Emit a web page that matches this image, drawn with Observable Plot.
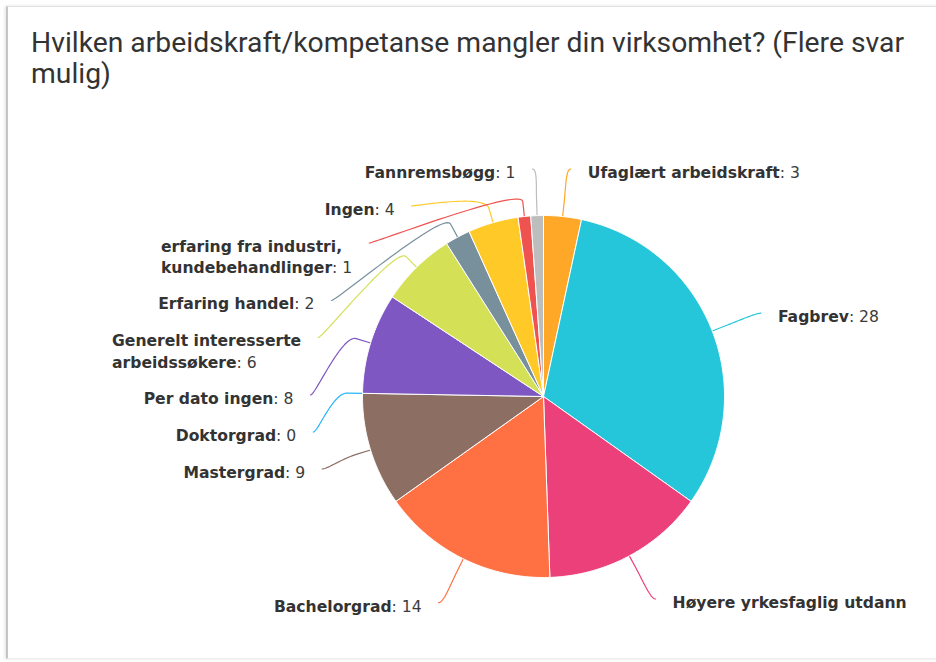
<!DOCTYPE html>
<html><head><meta charset="utf-8">
<script src="https://cdn.jsdelivr.net/npm/d3@7"></script>
<script src="https://cdn.jsdelivr.net/npm/@observablehq/plot@0.6"></script>
<style>
html,body{margin:0;padding:0;background:#fff;}
#page{position:relative;width:936px;height:662px;overflow:hidden;background:#fff;}
#card{position:absolute;left:6px;top:6px;width:960px;height:651px;border-top:1px solid #e2e2e2;border-left:2px solid #c6c6c6;border-bottom:1px solid #ededed;box-shadow:-1px 0 3px rgba(0,0,0,0.12);}
#title{position:absolute;left:31px;top:27px;width:900px;font-family:Roboto,sans-serif;font-size:28.3px;line-height:31px;color:#333;white-space:nowrap;}
#chart{position:absolute;left:0;top:110px;}
</style></head><body>
<div id="page"><div id="card"></div>
<div id="title">Hvilken arbeidskraft/kompetanse mangler din virksomhet? (Flere svar<br>mulig)</div>
<div id="chart"></div></div>
<script>
// ---- data ----
const categories = ["Ufaglært arbeidskraft","Fagbrev","Høyere yrkesfaglig utdanning","Bachelorgrad","Mastergrad","Doktorgrad","Per dato ingen","Generelt interesserte arbeidssøkere","Erfaring handel","Ingen","erfaring fra industri, kundebehandlinger","Fannremsbøgg"];
const values = [3, 28, 13, 14, 9, 0, 8, 6, 2, 4, 1, 1];
const colors = ["#FFA726","#26C6DA","#EC407A","#FF7043","#8D6E63","#29B6F6","#7E57C2","#D4E157","#78909C","#FFCA28","#EF5350","#BDBDBD"];
const labelLines = [["Ufaglært arbeidskraft"],["Fagbrev"],["Høyere yrkesfaglig utdann"],["Bachelorgrad"],["Mastergrad"],["Doktorgrad"],["Per dato ingen"],["Generelt interesserte","arbeidssøkere"],["Erfaring handel"],["Ingen"],["erfaring fra industri,","kundebehandlinger"],["Fannremsbøgg"]];
const valueShown = [true,true,false,true,true,true,true,true,true,true,true,true];

// ---- layout ----
const W = 936, H = 552, CX = 543, CY = 286, R = 181;
const LR = 230, PAD = 20, CONN_GAP = 17, BREAK = 15, LINE_H = 21.5, BOX1 = 37, BOX_EXTRA = 20.5;
const TOP = 58.5, BOTTOM = 530, FS = 15.6, TEXT_DY = 3.8;
const ux = px => (px - CX) / R, uy = py => (py - CY) / R;

const arcs = d3.pie().sort(null).value(d => d)(values);

// slices as closed polygons on the unit circle
const slicePts = [];
arcs.forEach((a, i) => {
  const span = a.endAngle - a.startAngle;
  if (span <= 0) return;
  const cat = categories[i];
  slicePts.push({cat, x: 0, y: 0});
  const n = Math.max(2, Math.ceil(span / 0.01));
  for (let k = 0; k <= n; k++) {
    const t = a.startAngle + span * k / n;
    slicePts.push({cat, x: Math.sin(t), y: -Math.cos(t)});
  }
  slicePts.push({cat, x: 0, y: 0});
});

// label placement (distribute on each side)
const items = arcs.map((a, i) => {
  const mid = (a.startAngle + a.endAngle) / 2;
  const lines = labelLines[i];
  return {i, mid, left: mid > Math.PI, lines, size: BOX1 + (lines.length - 1) * BOX_EXTRA, natural: CY - LR * Math.cos(mid)};
});
function distribute(list) {
  list.sort((a, b) => (a.natural + a.size / 2) - (b.natural + b.size / 2));
  let groups = list.map(it => ({items: [it], size: it.size, pos: it.natural}));
  let changed = true;
  while (changed) {
    changed = false;
    for (const g of groups) g.pos = Math.max(TOP, Math.min(BOTTOM - g.size, g.pos));
    for (let k = 0; k < groups.length - 1; k++) {
      const a = groups[k], b = groups[k + 1];
      if (a.pos + a.size > b.pos + 1e-6) {
        const its = a.items.concat(b.items);
        let off = 0, sum = 0;
        for (const it of its) { sum += it.natural - off; off += it.size; }
        groups.splice(k, 2, {items: its, size: off, pos: sum / its.length});
        changed = true; break;
      }
    }
  }
  for (const g of groups) {
    let y = g.pos;
    for (const it of g.items) { it.anchor = y; y += it.size; }
  }
}
distribute(items.filter(d => !d.left));
distribute(items.filter(d => d.left));

const ctx = document.createElement("canvas").getContext("2d");
function tw(s, bold) { ctx.font = `${bold ? "bold " : ""}${FS}px "DejaVu Sans"`; return ctx.measureText(s).width; }

const boldRows = [], valueRows = [], connPts = [];
for (const it of items) {
  const sgn = it.left ? -1 : 1;
  const clamped = it.anchor < TOP + 2 || it.anchor + it.size > BOTTOM - 2;
  const base = clamped ? LR * Math.abs(Math.sin(it.mid)) : Math.sqrt(Math.max(0, LR * LR - (it.anchor - CY) ** 2));
  const textX = CX + sgn * (base + PAD);
  const vtxt = valueShown[it.i] ? ": " + values[it.i] : "";
  const widths = it.lines.map((l, k) => tw(l, true) + (k === it.lines.length - 1 ? tw(vtxt, false) : 0));
  const blockW = Math.max(...widths);
  const startX = it.left ? textX - blockW : textX;
  it.lines.forEach((l, k) => {
    const y = it.anchor + TEXT_DY + k * LINE_H;
    boldRows.push({x: ux(startX), y: uy(y), text: l});
    if (k === it.lines.length - 1 && vtxt) valueRows.push({x: ux(startX + tw(l, true)), y: uy(y), text: vtxt});
  });
  // connector (fixed offset, soft)
  const cat = categories[it.i];
  const tx = CX + R * Math.sin(it.mid), ty = CY - R * Math.cos(it.mid);
  const bx = tx + BREAK * Math.sin(it.mid), by = ty - BREAK * Math.cos(it.mid);
  const ex = CX + sgn * (base + PAD - CONN_GAP), ey = it.anchor;
  const P = [[ex, ey], [ex - sgn * 5, ey], [2 * bx - tx, 2 * by - ty], [bx, by]];
  for (let k = 0; k <= 30; k++) {
    const t = k / 30, m = 1 - t;
    const x = m*m*m*P[0][0] + 3*m*m*t*P[1][0] + 3*m*t*t*P[2][0] + t*t*t*P[3][0];
    const y = m*m*m*P[0][1] + 3*m*m*t*P[1][1] + 3*m*t*t*P[2][1] + t*t*t*P[3][1];
    connPts.push({cat, x: ux(x), y: uy(y)});
  }
  connPts.push({cat, x: ux(tx), y: uy(ty)});
}

const chart = Plot.plot({
  width: W, height: H, margin: 0,
  x: {axis: null, domain: [ux(0), ux(W)], range: [0, W]},
  y: {axis: null, domain: [uy(0), uy(H)], range: [0, H]},
  color: {domain: categories, range: colors},
  marks: [
    Plot.line(connPts, {x: "x", y: "y", z: "cat", stroke: "cat", strokeWidth: 1.2, fill: "none", curve: "linear"}),
    Plot.line(slicePts, {x: "x", y: "y", z: "cat", fill: "cat", stroke: "#ffffff", strokeWidth: 1, strokeLinejoin: "round", curve: "linear"}),
    Plot.text(boldRows, {x: "x", y: "y", text: "text", textAnchor: "start", fontFamily: "DejaVu Sans", fontSize: FS, fontWeight: "bold", fill: "#333333"}),
    Plot.text(valueRows, {x: "x", y: "y", text: "text", textAnchor: "start", fontFamily: "DejaVu Sans", fontSize: FS, fontWeight: "normal", fill: "#3c3c3c"})
  ]
});
document.getElementById("chart").appendChild(chart);
</script>
</body></html>
